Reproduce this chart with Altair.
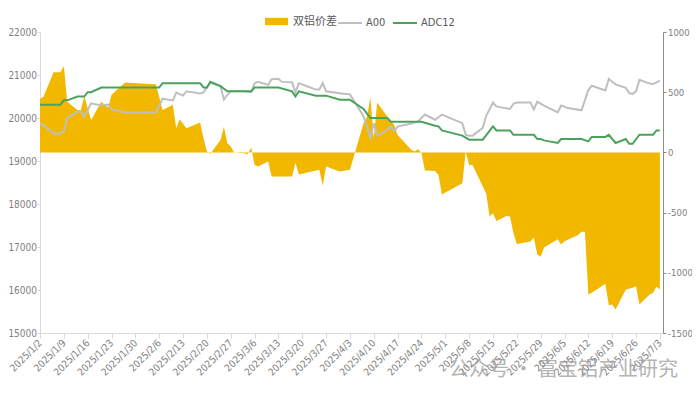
import altair as alt
import pandas as pd

# ---------------- data ----------------
a00_dates = ["2025-01-02","2025-01-03","2025-01-06","2025-01-08","2025-01-09","2025-01-10","2025-01-13","2025-01-14","2025-01-15","2025-01-17",
             "2025-01-20","2025-01-22","2025-01-23","2025-01-24","2025-01-27","2025-02-05","2025-02-07","2025-02-10","2025-02-11","2025-02-13",
             "2025-02-14","2025-02-18","2025-02-19","2025-02-21","2025-02-24","2025-02-25","2025-02-26","2025-02-27","2025-03-03","2025-03-05",
             "2025-03-06","2025-03-07","2025-03-10","2025-03-11","2025-03-13","2025-03-14","2025-03-17","2025-03-18","2025-03-19","2025-03-21",
             "2025-03-24","2025-03-25","2025-03-26","2025-03-27","2025-04-01","2025-04-03","2025-04-07","2025-04-08","2025-04-09","2025-04-10",
             "2025-04-11","2025-04-14","2025-04-15","2025-04-16","2025-04-17","2025-04-21","2025-04-23","2025-04-25","2025-04-28","2025-04-30",
             "2025-05-06","2025-05-07","2025-05-08","2025-05-09","2025-05-12","2025-05-13","2025-05-15","2025-05-16","2025-05-20","2025-05-21",
             "2025-05-22","2025-05-26","2025-05-27","2025-05-28","2025-05-30","2025-06-03","2025-06-04","2025-06-06","2025-06-10","2025-06-12",
             "2025-06-13","2025-06-17","2025-06-18","2025-06-20","2025-06-23","2025-06-24","2025-06-25","2025-06-26","2025-06-27","2025-06-30",
             "2025-07-01","2025-07-03"]
a00_values = [19870,19840,19640,19640,19690,20000,20150,20150,20030,20340,
              20290,20310,20210,20180,20130,20130,20450,20410,20590,20520,
              20620,20570,20595,20820,20740,20425,20540,20620,20620,20600,
              20810,20840,20770,20900,20910,20840,20830,20600,20810,20750,
              20660,20660,20810,20620,20565,20550,20040,19800,19535,19880,
              19590,19730,19800,19690,19800,19870,19920,20080,19960,20080,
              19880,19610,19590,19590,19770,20050,20360,20270,20210,20330,
              20360,20360,20200,20380,20290,20130,20290,20230,20180,20650,
              20750,20640,20910,20780,20700,20580,20560,20620,20890,20800,
              20790,20870]

adc12_dates = ["2025-01-02","2025-01-08","2025-01-09","2025-01-10","2025-01-13","2025-01-15","2025-01-16","2025-01-17","2025-01-20","2025-02-06",
               "2025-02-07","2025-02-18","2025-02-19","2025-02-20","2025-02-21","2025-02-24","2025-02-26","2025-03-05","2025-03-06","2025-03-13",
               "2025-03-17","2025-03-18","2025-03-19","2025-03-24","2025-03-27","2025-03-31","2025-04-03","2025-04-07","2025-04-08","2025-04-09",
               "2025-04-14","2025-04-15","2025-04-24","2025-04-28","2025-04-29","2025-04-30","2025-05-06","2025-05-08","2025-05-12","2025-05-15",
               "2025-05-16","2025-05-20","2025-05-21","2025-05-27","2025-05-28","2025-05-29","2025-05-30","2025-06-03","2025-06-04","2025-06-10",
               "2025-06-12","2025-06-13","2025-06-17","2025-06-18","2025-06-20","2025-06-23","2025-06-24","2025-06-25","2025-06-27","2025-07-01",
               "2025-07-02","2025-07-03"]
adc12_values = [20310,20310,20410,20410,20500,20500,20600,20600,20710,20710,
                20810,20810,20710,20710,20840,20740,20620,20620,20710,20710,
                20620,20500,20620,20520,20520,20425,20425,20210,20100,20000,
                20000,19910,19910,19820,19805,19710,19590,19495,19495,19805,
                19710,19710,19610,19610,19510,19510,19480,19420,19510,19510,
                19456,19560,19560,19610,19420,19510,19400,19400,19610,19610,
                19710,19710]

spread_dates = ["2025-01-02","2025-01-03","2025-01-06","2025-01-08","2025-01-09","2025-01-10","2025-01-13","2025-01-14","2025-01-15","2025-01-17",
                "2025-01-20","2025-01-22","2025-01-23","2025-01-27","2025-02-05","2025-02-07","2025-02-10","2025-02-11","2025-02-12","2025-02-14",
                "2025-02-18","2025-02-19","2025-02-20","2025-02-21","2025-02-24","2025-02-25","2025-02-26","2025-02-27","2025-02-28","2025-03-03",
                "2025-03-04","2025-03-05","2025-03-06","2025-03-07","2025-03-10","2025-03-11","2025-03-17","2025-03-18","2025-03-19","2025-03-25",
                "2025-03-26","2025-03-27","2025-03-31","2025-04-03","2025-04-07","2025-04-08","2025-04-09","2025-04-10","2025-04-11","2025-04-14",
                "2025-04-16","2025-04-17","2025-04-21","2025-04-22","2025-04-23","2025-04-24","2025-04-25","2025-04-28","2025-04-29","2025-04-30",
                "2025-05-06","2025-05-07","2025-05-08","2025-05-09","2025-05-12","2025-05-13","2025-05-14","2025-05-15","2025-05-16","2025-05-19",
                "2025-05-20","2025-05-21","2025-05-22","2025-05-26","2025-05-27","2025-05-28","2025-05-29","2025-05-30","2025-06-03","2025-06-04",
                "2025-06-05","2025-06-09","2025-06-10","2025-06-11","2025-06-12","2025-06-13","2025-06-17","2025-06-18","2025-06-19","2025-06-20",
                "2025-06-23","2025-06-25","2025-06-26","2025-06-27","2025-06-30","2025-07-01","2025-07-02","2025-07-03"]
spread_values = [444,463,666,666,718,420,353,353,469,270,
                 420,370,478,580,565,353,395,201,276,201,
                 248,118,7,-12,104,214,76,48,0,-7,
                 -15,40,-104,-118,-76,-201,-201,-85,-184,-145,
                 -276,-118,-159,-145,242,297,458,118,414,297,
                 228,145,21,7,29,-5,-150,-155,-187,-350,
                 -256,5,-104,-104,-284,-340,-533,-506,-569,-529,
                 -533,-669,-760,-741,-706,-848,-867,-790,-722,-765,
                 -737,-687,-660,-660,-1180,-1166,-1090,-1270,-1264,-1305,
                 -1139,-1125,-1111,-1264,-1180,-1166,-1116,-1139]

week_ticks = ["2025-01-02","2025-01-09","2025-01-16","2025-01-23","2025-01-30","2025-02-06","2025-02-13","2025-02-20","2025-02-27",
              "2025-03-06","2025-03-13","2025-03-20","2025-03-27","2025-04-03","2025-04-10","2025-04-17","2025-04-24","2025-05-01",
              "2025-05-08","2025-05-15","2025-05-22","2025-05-29","2025-06-05","2025-06-12","2025-06-19","2025-06-26","2025-07-03"]
left_ticks = [15000, 16000, 17000, 18000, 19000, 20000, 21000, 22000]
right_ticks = [-1500, -1000, -500, 0, 500, 1000]
series_names = ["双铝价差", "A00", "ADC12"]
watermark = "公众号 · 富宝铝产业研究"

# ---------------- styling ----------------
GOLD = "#F2B800"
GRAY = "#BFBFBF"
GREEN = "#4BA35B"
FONT = "DejaVu Sans Condensed, Roboto Condensed, Roboto, Noto Sans CJK SC, sans-serif"
LABEL_COLOR = "#7F7F7F"


def dt(s, hours=0):
    y, m, d = (int(p) for p in s.split("-"))
    return alt.DateTime(year=y, month=m, date=d, hours=hours)


spread_df = pd.DataFrame({"date": pd.to_datetime(spread_dates), "value": spread_values,
                          "series": series_names[0]})
lines_df = pd.concat([
    pd.DataFrame({"date": pd.to_datetime(a00_dates), "value": a00_values, "series": series_names[1]}),
    pd.DataFrame({"date": pd.to_datetime(adc12_dates), "value": adc12_values, "series": series_names[2]}),
], ignore_index=True)

x_enc = alt.X(
    "date:T",
    title=None,
    scale=alt.Scale(domain=[dt("2025-01-02"), dt("2025-07-03", 22)]),
    axis=alt.Axis(
        values=[dt(s) for s in week_ticks],
        labelExpr="timeFormat(datum.value, '%Y/%-m/%-d')",
        labelAngle=-45,
        labelAlign="right",
        labelBaseline="middle",
        labelPadding=3,
        labelOverlap=False,
        labelFlush=False,
        labelFontSize=10,
        tickSize=5,
        grid=False,
        domainColor="#D9D9D9",
        tickColor="#D9D9D9",
    ),
)

area = alt.Chart(spread_df).mark_area(interpolate="linear", opacity=1).encode(
    x=x_enc,
    y=alt.Y(
        "value:Q",
        title=None,
        scale=alt.Scale(domain=[-1500, 1000], nice=False, zero=False),
        axis=alt.Axis(
            orient="right",
            values=right_ticks,
            labelExpr="'' + datum.value",
            grid=False,
            tickSize=3,
            domainColor="#8C8C8C",
            tickColor="#8C8C8C",
            labelPadding=1.5,
            labelFontSize=9.5,
        ),
    ),
    y2=alt.datum(0),
    fill=alt.Fill(
        "series:N",
        scale=alt.Scale(domain=[series_names[0]], range=[GOLD]),
        legend=alt.Legend(
            orient="none", legendX=225, legendY=-22, title=None, direction="horizontal",
            symbolType="M-1,-0.32H1V0.32H-1Z", symbolSize=529, symbolStrokeWidth=0,
            labelOffset=5, padding=0,
        ),
    ),
)

lines = alt.Chart(lines_df).mark_line(strokeWidth=2, interpolate="linear").encode(
    x=x_enc,
    y=alt.Y(
        "value:Q",
        title=None,
        scale=alt.Scale(domain=[15000, 22000], nice=False, zero=False),
        axis=alt.Axis(
            orient="left",
            values=left_ticks,
            format="d",
            grid=False,
            tickSize=3,
            domainColor="#D9D9D9",
            tickColor="#D9D9D9",
            labelPadding=0.5,
            labelFontSize=10,
        ),
    ),
    stroke=alt.Stroke(
        "series:N",
        scale=alt.Scale(domain=series_names[1:], range=[GRAY, GREEN]),
        legend=alt.Legend(
            orient="none", legendX=297, legendY=-22, title=None, direction="horizontal",
            symbolType="stroke", symbolSize=576, symbolStrokeWidth=2,
            labelOffset=3, columnPadding=3, padding=0,
        ),
    ),
    order=alt.Order("series:N"),
)

wm = alt.Chart(pd.DataFrame({"t": [watermark]})).mark_text(
    fontSize=20, align="right", baseline="middle", color="#9A9A9A", opacity=0.75,
    font="Noto Sans CJK SC",
).encode(
    x=alt.value(638),
    y=alt.value(338),
    text="t:N",
)

chart = alt.layer(area, lines, wm).resolve_scale(
    y="independent"
).properties(
    width=623,
    height=301,
    autosize=alt.AutoSizeParams(type="none"),
    padding={"left": 32, "top": 24, "right": 29, "bottom": 52},
).configure_view(
    stroke=None
).configure_axis(
    labelFont=FONT, labelColor=LABEL_COLOR,
).configure_legend(
    labelFont=FONT, labelFontSize=11, labelColor="#595959",
)

chart.save("out.html", embed_options={"renderer": "svg", "actions": False})
